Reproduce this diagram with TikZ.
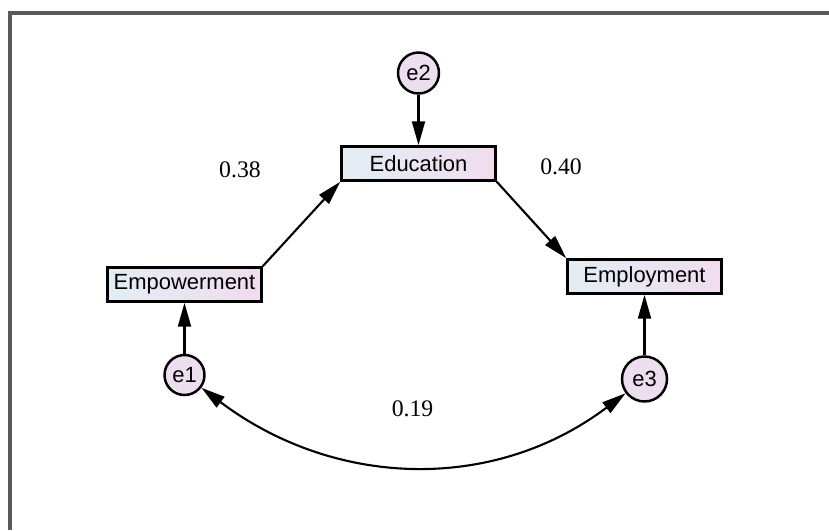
\documentclass[tikz,border=0pt]{standalone}
\usepackage{fontspec}
\setmainfont{Liberation Serif}
\newfontfamily\boxfont{Liberation Sans}
\usetikzlibrary{arrows.meta}

\definecolor{boxleft}{RGB}{226,238,243}
\definecolor{boxright}{RGB}{240,220,238}
\definecolor{errfill}{RGB}{236,222,238}
\definecolor{framegray}{RGB}{90,90,90}

\begin{document}
\begin{tikzpicture}[ node distance=1.81cm,
  var/.style={draw, line width=1.4pt, left color=boxleft, right color=boxright, minimum width=3.08cm, minimum height=0.68cm, inner sep=1pt, font=\boxfont\fontsize{12.5}{15}\selectfont},
  err/.style={circle, draw, line width=1.4pt, fill=errfill, inner sep=0pt, minimum size=0.82cm, font=\boxfont\fontsize{12.5}{15}\selectfont},
  coef/.style={font=\fontsize{13.5}{16}\selectfont},
  path/.style={line width=1.2pt, -{Triangle[length=4.8mm,width=2.6mm]}},
  cov/.style={line width=1.2pt, {Triangle[length=4.8mm,width=2.6mm]}-{Triangle[length=4.8mm,width=2.6mm]}}]
% frame and page size
\useasboundingbox (0,0) rectangle (16.58,-10.6);
\draw[framegray, line width=1.8pt] (0.2,-10.6) -- (0.2,-0.26) -- (16.58,-0.26);

% Specification of nodes (position, etc.)
\node (education)     [var]                       at (8.37,-3.27)   {Education};
\node (empowerment)   [var]                       at (3.69,-5.69)   {Empowerment};
\node (employment)    [var]                       at (12.89,-5.53)  {Employment};

\node (e2)            [err, above of=education]                     {e2};
\node (e1)            [err, below of=empowerment, minimum size=0.8cm] {e1};
\node (e3)            [err, below of=employment, yshift=-0.24cm, minimum size=0.9cm] {e3};

\node (coefEdu)       [coef]                      at (4.8,-3.4)     {0.38};
\node (coefEmp)       [coef]                      at (11.22,-3.33)  {0.40};
\node (coefErr)       [coef]                      at (8.25,-8.18)   {0.19};

\draw[path]           (empowerment.north east) -- (education.south west);
\draw[path]           (education.south east) -- (employment.north west);

\draw[path]           (e2) -- (education);
\draw[path]           (e1) -- (empowerment);
\draw[path]           (e3) -- (employment);

\draw[cov]            (e1) to[out=-37, in=-143] (e3);

\end{tikzpicture}
\end{document}
